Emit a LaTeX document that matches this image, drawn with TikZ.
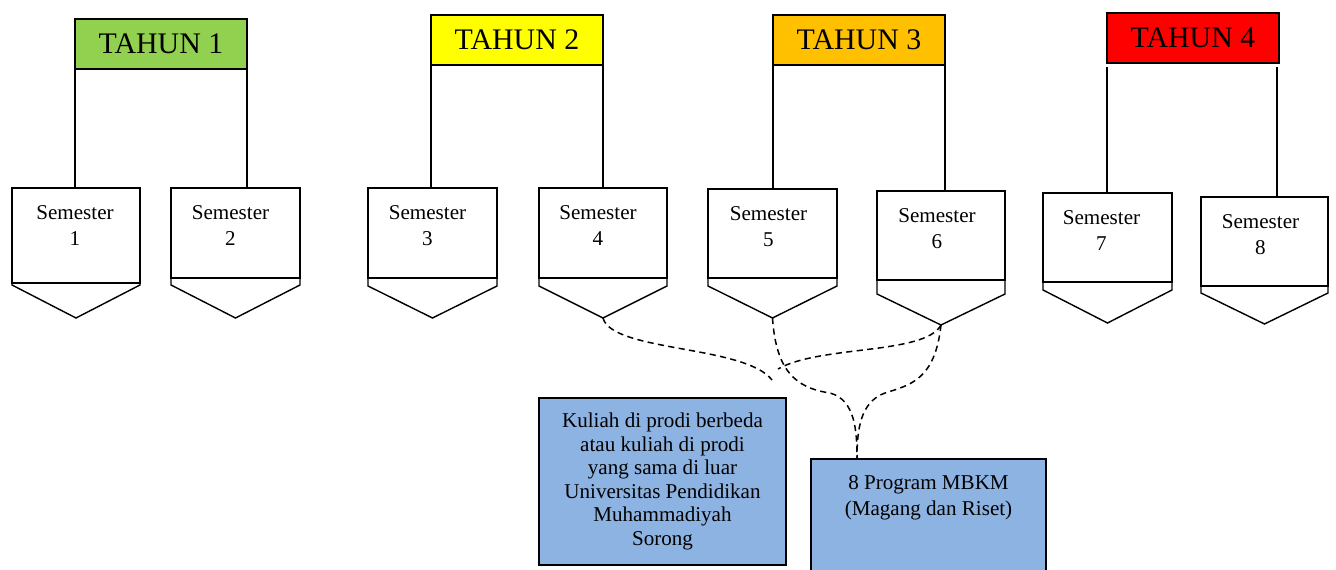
\documentclass[tikz,border=0pt]{standalone}
\usepackage{fontspec}
\setmainfont{Liberation Serif}
\usetikzlibrary{calc}
\definecolor{tgreen}{HTML}{92D050}
\definecolor{tyellow}{HTML}{FFFF00}
\definecolor{torange}{HTML}{FFC000}
\definecolor{tred}{HTML}{FF0000}
\definecolor{boxblue}{HTML}{8DB3E2}
\tikzset{
  tahun/.style={draw=black, line width=0.8pt, minimum width=172*0.02cm, minimum height=50*0.02cm, inner sep=0pt, outer sep=0pt, font=\fontsize{17}{20}\selectfont},
  sembox/.style={draw, line width=1.1pt, inner sep=0pt, outer sep=0pt},
  semtext/.style={anchor=north, align=center, inner sep=0pt, font=\fontsize{12}{14.8}\selectfont},
  chev/.style={line width=0.8pt, line join=miter},
  link/.style={line width=1pt},
  mbkm/.style={draw, fill=boxblue, line width=1pt, inner sep=0pt, outer sep=0pt, align=center, font=\fontsize{12}{13.4}\selectfont},
  dashlink/.style={dash pattern=on 3.5pt off 2.5pt, line width=0.85pt}
}
\newcommand\mysem[9]{%
  \node[sembox, minimum width={(#3-#2)*0.02cm}, minimum height={(#5-#4)*0.02cm}] (#1) at ({(#2+#3)/2},{(#4+#5)/2}) {};
  \node[semtext] (#1txt) at ($(#1.north)+(#9,17)$) {Semester\\#8};
  \coordinate (#1tip) at ({(#2+#3)/2},#7);
  \draw[chev] (#1.south west) -- (#2,#6) -- (#1tip) -- (#3,#6) -- (#1.south east);
}
\begin{document}
\begin{tikzpicture}[x=0.02cm, y=-0.02cm]
\useasboundingbox (0,0) rectangle (1336,570);
\clip (0,0) rectangle (1336,570);
% year boxes
\node[tahun, fill=tgreen]  (T1) at (161,44)  {TAHUN 1};
\node[tahun, fill=tyellow] (T2) at (517,40)  {TAHUN 2};
\node[tahun, fill=torange] (T3) at (859,40)  {TAHUN 3};
\node[tahun, fill=tred]    (T4) at (1193,38) {TAHUN 4};
% semesters: name, xl, xr, top, rectbottom, chevstart, tipy, label, xoffset
\mysem{s1}{12}{140}{188}{283}{285}{318}{1}{-1}
\mysem{s2}{171}{300}{188}{278}{285}{318}{2}{-5}
\mysem{s3}{368}{497}{188}{278}{286}{318}{3}{-5}
\mysem{s4}{539}{667}{188}{278}{286}{318}{4}{-5}
\mysem{s5}{708}{837}{189}{278}{286}{318}{5}{-4}
\mysem{s6}{877}{1005}{191}{280}{294}{325}{6}{-4}
\mysem{s7}{1043}{1172}{193}{282}{290}{323}{7}{-6}
\mysem{s8}{1201}{1328}{197}{286}{293}{324}{8}{-4}
% links year -> semester
\draw[link] (T1.south west) -- (T1.south west |- s1.north);
\draw[link] (T1.south east) -- (T1.south east |- s2.north);
\draw[link] (T2.south west) -- (T2.south west |- s3.north);
\draw[link] (T2.south east) -- (T2.south east |- s4.north);
\draw[link] (T3.south west) -- (T3.south west |- s5.north);
\draw[link] (T3.south east) -- (T3.south east |- s6.north);
\draw[link] ([yshift=-0.08cm]T4.south west) -- (T4.south west |- s7.north);
\draw[link] ([xshift=-0.04cm,yshift=-0.08cm]T4.south east) -- ([xshift=-0.04cm]T4.south east |- s8.north);
% program boxes
\node[mbkm, minimum width=247*0.02cm, minimum height=167*0.02cm] (A) at (662.5,481.5)
  {Kuliah di prodi berbeda\\atau kuliah di prodi\\yang sama di luar\\Universitas Pendidikan\\Muhammadiyah\\Sorong};
\node[mbkm, minimum width=235*0.02cm, minimum height=131*0.02cm] (B) at (928.5,524.5) {};
\node[semtext] (Btxt) at ($(B.north)+(0,16)$) {8 Program MBKM\\(Magang dan Riset)};
% dashed connectors
\coordinate (e1) at (772,380);
\coordinate (e2) at (778,369);
\path (B.north west) ++(46,0) coordinate (bin);
\draw[dashlink] (s4tip) .. controls (612,352) and (745,345) .. (e1);
\draw[dashlink] (s6tip) .. controls (925,355) and (820,345) .. (e2);
\draw[dashlink] (s5tip) .. controls (776,370) and (795,388) .. (830,393) .. controls (855,400) and (857,430) .. (bin);
\draw[dashlink] (s6tip) .. controls (935,380) and (910,385) .. (885,393) .. controls (860,402) and (857,430) .. (bin);
\end{tikzpicture}
\end{document}
